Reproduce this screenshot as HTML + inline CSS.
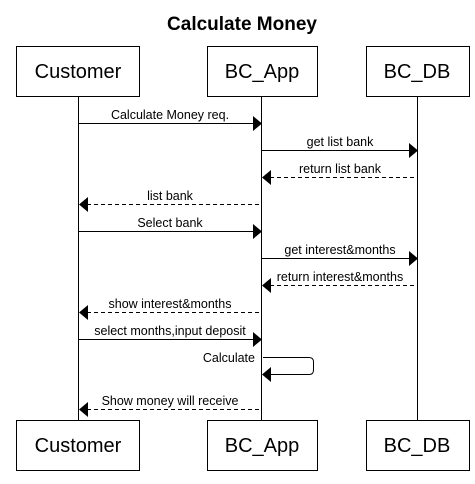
<!DOCTYPE html>
<html><head><style>body{margin:0;background:#fff}</style></head><body>
<svg width="475" height="479" xmlns="http://www.w3.org/2000/svg" font-family="Liberation Sans, Arial, sans-serif">
<rect width="475" height="479" fill="#fff"/>
<text x="242" y="30" font-size="19" font-weight="bold" text-anchor="middle">Calculate Money</text>
<g fill="#fff" stroke="#000" stroke-width="1">
<rect x="16.5" y="46.5" width="123" height="50"/>
<rect x="207.5" y="46.5" width="110" height="50"/>
<rect x="366.5" y="46.5" width="103" height="50"/>
<rect x="16.5" y="420.5" width="123" height="50"/>
<rect x="207.5" y="420.5" width="110" height="50"/>
<rect x="366.5" y="420.5" width="103" height="50"/>
</g>
<g font-size="20" text-anchor="middle">
<text x="78" y="78">Customer</text><text x="262" y="78">BC_App</text><text x="417" y="78">BC_DB</text>
<text x="78" y="452">Customer</text><text x="262" y="452">BC_App</text><text x="417" y="452">BC_DB</text>
</g>
<g stroke="#000" stroke-width="1">
<line x1="78.5" y1="97" x2="78.5" y2="420"/>
<line x1="261.5" y1="97" x2="261.5" y2="420"/>
<line x1="417.5" y1="97" x2="417.5" y2="420"/>
</g>
<g stroke="#000" stroke-width="1" fill="none">
<line x1="79" y1="123.5" x2="254" y2="123.5"/>
<line x1="262" y1="150.5" x2="410" y2="150.5"/>
<line x1="270" y1="177.5" x2="417" y2="177.5" stroke-dasharray="4,3"/>
<line x1="87" y1="204.5" x2="261" y2="204.5" stroke-dasharray="4,3"/>
<line x1="79" y1="231.5" x2="254" y2="231.5"/>
<line x1="262" y1="258.5" x2="410" y2="258.5"/>
<line x1="270" y1="285.5" x2="417" y2="285.5" stroke-dasharray="4,3"/>
<line x1="87" y1="312.5" x2="261" y2="312.5" stroke-dasharray="4,3"/>
<line x1="79" y1="339.5" x2="254" y2="339.5"/>
<path d="M263 357.5 H309 Q313.5 357.5 313.5 362 V370 Q313.5 374.5 309 374.5 H270"/>
<line x1="87" y1="409.5" x2="261" y2="409.5" stroke-dasharray="4,3"/>
</g>
<g fill="#000">
<path d="M253 116 L262 123.5 L253 131Z"/>
<path d="M409 143 L418 150.5 L409 158Z"/>
<path d="M271 170 L262 177.5 L271 185Z"/>
<path d="M88 197 L79 204.5 L88 212Z"/>
<path d="M253 224 L262 231.5 L253 239Z"/>
<path d="M409 251 L418 258.5 L409 266Z"/>
<path d="M271 278 L262 285.5 L271 293Z"/>
<path d="M88 305 L79 312.5 L88 320Z"/>
<path d="M253 332 L262 339.5 L253 347Z"/>
<path d="M271 367 L262 374.5 L271 382Z"/>
<path d="M88 402 L79 409.5 L88 417Z"/>
</g>
<g font-size="12.5" text-anchor="middle">
<text x="170" y="119">Calculate Money req.</text>
<text x="340" y="146">get list bank</text>
<text x="340" y="173">return list bank</text>
<text x="170" y="200">list bank</text>
<text x="170" y="227">Select bank</text>
<text x="340" y="254">get interest&amp;months</text>
<text x="340" y="281">return interest&amp;months</text>
<text x="170" y="308">show interest&amp;months</text>
<text x="170" y="335">select months,input deposit</text>
<text x="255" y="362" text-anchor="end">Calculate</text>
<text x="170" y="405">Show money will receive</text>
</g>
</svg>
</body></html>
